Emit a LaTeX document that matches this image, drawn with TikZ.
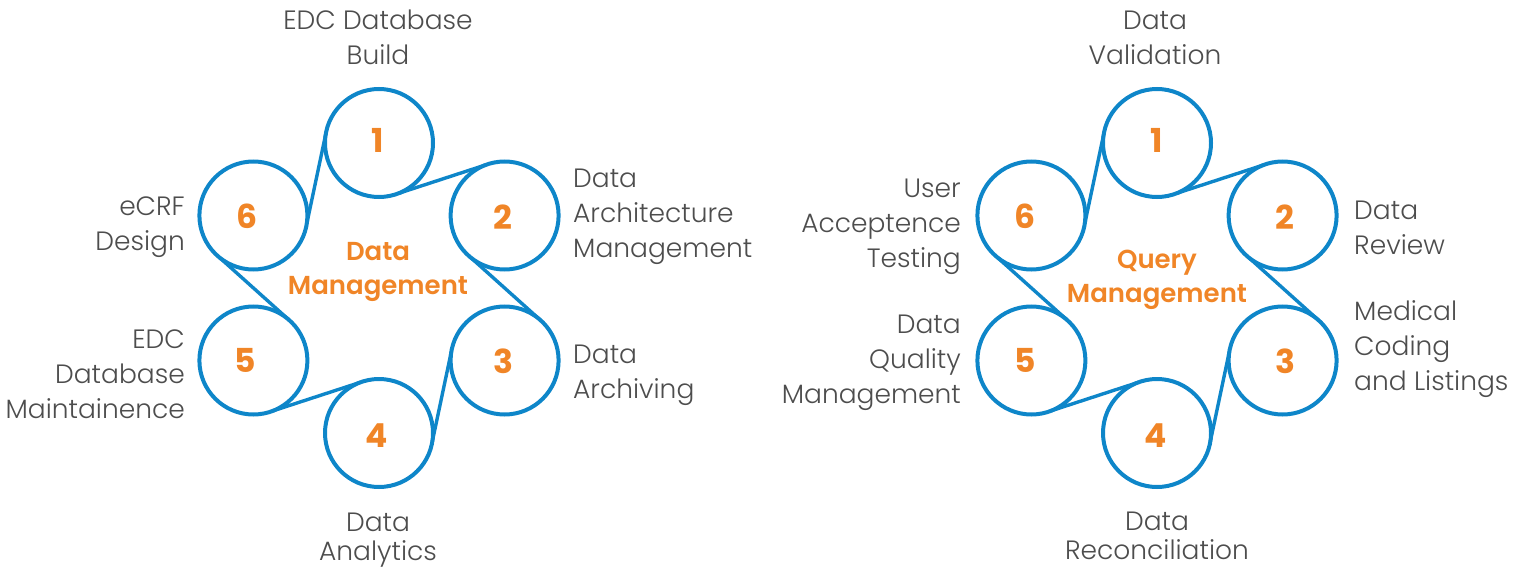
\documentclass[tikz,border=0pt]{standalone}
\usepackage{fontspec}
\setmainfont{Poppins}
\newfontfamily\lightf{Poppins Light}
\newfontfamily\semif{Poppins SemiBold}
\newfontfamily\boldf{Poppins Bold}
\definecolor{cblue}{HTML}{0E86C9}
\definecolor{corange}{HTML}{F08527}
\definecolor{ctext}{HTML}{4D4D4D}
\newcommand\rlab[1]{\begin{tabular}[t]{@{}r@{}}#1\end{tabular}}
\newcommand\llab[1]{\begin{tabular}[t]{@{}l@{}}#1\end{tabular}}
\newcommand\clab[1]{\begin{tabular}[t]{@{}c@{}}#1\end{tabular}}
\tikzset{
 ring/.style={circle, draw=cblue, line width=4pt, minimum size=108pt, inner sep=0pt, outer sep=0pt},
 link/.style={draw=cblue, line width=3.4pt},
 num/.style={text=corange, font=\boldf\fontsize{33}{33}\selectfont, inner sep=0pt, anchor=center},
 hub/.style={text=corange, font=\semif\fontsize{26}{34}\selectfont, inner sep=0pt, anchor=base},
 lbl/.style={text=ctext, font=\lightf\fontsize{26.5}{35}\selectfont, inner sep=0pt},
 lblb/.style={text=ctext, font=\lightf\fontsize{26.5}{29}\selectfont, inner sep=0pt},
}
\begin{document}
\begin{tikzpicture}[x=1pt,y=-1pt]
\useasboundingbox (0,0) rectangle (1525,567);
% ---------- left: Data Management ----------
\node[ring] (a1) at (379,143) {};
\node[ring] (a2) at (504.6,215.5) {};
\node[ring] (a3) at (504.6,360.5) {};
\node[ring] (a4) at (379,433) {};
\node[ring] (a5) at (253.4,360.5) {};
\node[ring] (a6) at (253.4,215.5) {};
\draw[link] (a1.-69.4) -- (a2.110.6);
\draw[link] (a2.-129.4) -- (a3.50.6);
\draw[link] (a3.170.6) -- (a4.-9.4);
\draw[link] (a4.110.6) -- (a5.-69.4);
\draw[link] (a5.50.6) -- (a6.-129.4);
\draw[link] (a6.-9.4) -- (a1.170.6);
\node[num] (an1) at (378,140) {1};
\node[num] (an2) at (503,217) {2};
\node[num] (an3) at (503,361) {3};
\node[num] (an4) at (377,436) {4};
\node[num] (an5) at (245,360) {5};
\node[num] (an6) at (247,216) {6};
\node[hub] (ahub) at (378,260) {\clab{Data\\Management}};
\node[lbl, anchor=base] (al1) at (378,30) {\clab{EDC Database\\Build}};
\node[lbl, anchor=base west] (al2) at (573,187) {\llab{Data\\Architecture\\Management}};
\node[lbl, anchor=base west] (al3) at (573,363) {\llab{Data\\Archiving}};
\node[lblb, anchor=base] (al4) at (378,531) {\clab{Data\\Analytics}};
\node[lbl, anchor=base east] (al5) at (185,348) {\rlab{EDC\\Database\\Maintainence}};
\node[lbl, anchor=base east] (al6) at (185,215) {\rlab{eCRF\\Design}};
% ---------- right: Query Management ----------
\node[ring] (b1) at (1157,143) {};
\node[ring] (b2) at (1282.6,215.5) {};
\node[ring] (b3) at (1282.6,360.5) {};
\node[ring] (b4) at (1157,433) {};
\node[ring] (b5) at (1031.4,360.5) {};
\node[ring] (b6) at (1031.4,215.5) {};
\draw[link] (b1.-69.4) -- (b2.110.6);
\draw[link] (b2.-129.4) -- (b3.50.6);
\draw[link] (b3.170.6) -- (b4.-9.4);
\draw[link] (b4.110.6) -- (b5.-69.4);
\draw[link] (b5.50.6) -- (b6.-129.4);
\draw[link] (b6.-9.4) -- (b1.170.6);
\node[num] (bn1) at (1157,140) {1};
\node[num] (bn2) at (1285,217) {2};
\node[num] (bn3) at (1285,361) {3};
\node[num] (bn4) at (1156,436) {4};
\node[num] (bn5) at (1025,360) {5};
\node[num] (bn6) at (1025,216) {6};
\node[hub] (bhub) at (1157,268) {\clab{Query\\Management}};
\node[lbl, anchor=base] (bl1) at (1155,30) {\clab{Data\\Validation}};
\node[lbl, anchor=base west] (bl2) at (1354,219) {\llab{Data\\Review}};
\node[lbl, anchor=base west] (bl3) at (1354,320) {\llab{Medical\\Coding\\and Listings}};
\node[lblb, anchor=base] (bl4) at (1157,530) {\clab{Data\\Reconciliation}};
\node[lbl, anchor=base east] (bl5) at (961,333) {\rlab{Data\\Quality\\Management}};
\node[lbl, anchor=base east] (bl6) at (961,197) {\rlab{User\\Acceptence\\Testing}};
\end{tikzpicture}
\end{document}
